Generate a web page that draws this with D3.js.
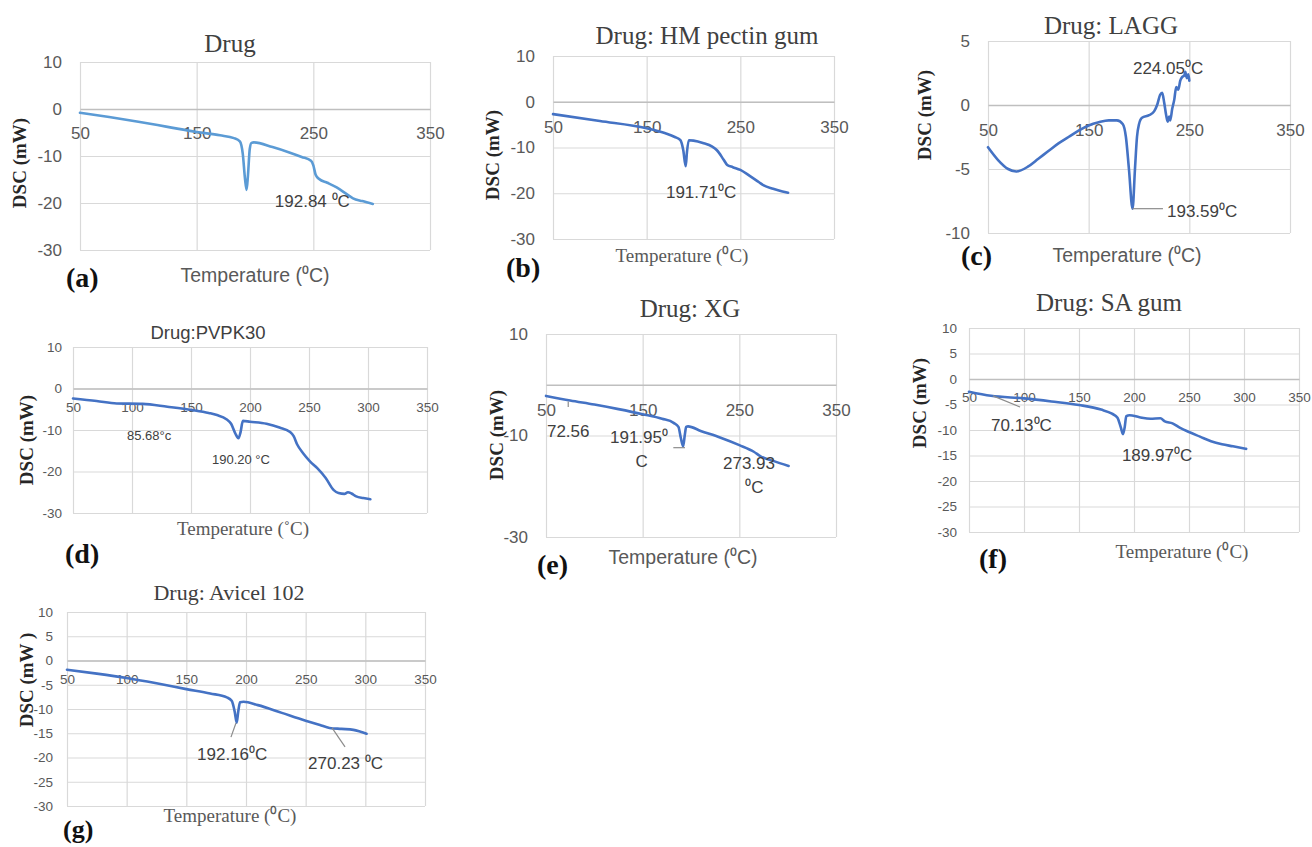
<!DOCTYPE html>
<html><head><meta charset="utf-8">
<script src="https://cdn.jsdelivr.net/npm/d3@7"></script>
<style>body{margin:0;background:#fff;} svg{display:block;}</style>
</head><body>
<svg id="chart" width="1312" height="847"></svg>
<script>
// ---------- tick labels ----------
const xTicksCoarse = [50, 150, 250, 350];
const xTicksFine = [50, 100, 150, 200, 250, 300, 350];
const yTicks10 = [10, 0, -10, -20, -30];
const yTicks5 = [10, 5, 0, -5, -10, -15, -20, -25, -30];
const yTicksLAGG = [5, 0, -5, -10];
const yTicksXG = [10, -10, -30];

// ---------- series (temperature °C, DSC mW) ----------
const drugTemp = [50,75,100,125,150,170,182,187,189.5,191.5,192.8,194,195.5,197,199,215,230,240,248,250,252,255,262,270,278,284,292,301];
const drugDSC  = [-0.8,-1.7,-2.7,-3.8,-4.9,-5.6,-6.2,-6.9,-9.5,-15,-17.2,-14,-8.5,-7.2,-7.1,-8.1,-9.3,-10.2,-11,-12,-14,-14.9,-15.7,-16.7,-18,-19,-19.6,-20.2];

const pectinTemp = [50,100,150,170,180,186,189,191.7,193,195,200,210,220,225,232,236,242,250,260,270,275,285,295,301];
const pectinDSC  = [-2.7,-4.2,-5.8,-6.9,-7.7,-8.4,-10.5,-14.1,-11,-8.4,-8.5,-9.0,-9.8,-10.6,-12.6,-13.8,-14.3,-14.9,-16.2,-17.6,-18.3,-19.0,-19.6,-19.9];

const laggTemp = [50,60,70,78,90,100,110,120,130,140,150,160,170,178,184,187,190,193.6,196,198,200,203,210,215,218,221,223,225,227,228.5,230,231,233,235,237,239,241,243,245,246,247.5,249,250];
const laggDSC  = [-3.3,-4.3,-5.0,-5.2,-4.8,-4.2,-3.6,-3.0,-2.5,-2.0,-1.6,-1.35,-1.2,-1.2,-1.5,-2.5,-5,-8.1,-5,-2.5,-1.5,-1.0,-0.8,-0.5,0,0.8,0.95,0.2,-0.8,-1.3,-0.9,-1.2,-0.3,0.4,1.4,1.2,1.9,2.2,2.3,2.6,2.1,2.4,1.9];

const pvpTemp = [50,70,87,109,130,151,165,172,180,184,187.5,190.2,192,194,200,214,225,234,237,240,245,251,257,264,271,275,280,283,286,290,296,302];
const pvpDSC  = [-2.4,-3.0,-3.6,-3.7,-4.4,-5.2,-5.9,-6.4,-7.4,-8.5,-10.8,-12,-10.5,-7.8,-8.0,-8.5,-9.4,-10.5,-11.5,-13.5,-15.6,-17.6,-19.2,-21.5,-24.5,-25.2,-25.4,-25.0,-25.3,-26.0,-26.4,-26.7];

const xgTemp = [50,75,100,125,150,170,182,187,189.5,191.9,193.5,195,197,210,230,250,265,272,285,301];
const xgDSC  = [-2.2,-3.1,-3.9,-4.8,-5.8,-6.7,-7.5,-8.3,-10.5,-12.1,-10,-8.3,-8.2,-9.1,-10.4,-11.9,-13.2,-14.1,-15,-16];

const saTemp = [50,70,100,125,150,170,180,185,188,190,191.5,193,196,205,215,224,228,235,242,250,260,270,280,290,302];
const saDSC  = [-2.5,-3.3,-3.8,-4.4,-5.1,-6.0,-6.8,-7.6,-9.5,-10.8,-9.5,-7.3,-7.1,-7.5,-7.8,-7.7,-8.3,-8.7,-9.6,-10.4,-11.3,-12.2,-12.8,-13.2,-13.7];

const avicelTemp = [50,75,100,125,150,170,184,188,190.5,192.2,193.5,195,198,210,230,250,262,270,280,290,296,301];
const avicelDSC  = [-1.9,-2.7,-3.6,-4.7,-5.9,-6.8,-7.6,-8.3,-10.5,-12.8,-10.5,-8.6,-8.5,-9.2,-10.8,-12.4,-13.3,-13.9,-14.1,-14.3,-14.7,-15.1];

// ---------- layout / styling ----------
const SERIF = "'Liberation Serif','Times New Roman',serif";
const SANS = "'Liberation Sans',Arial,sans-serif";

const panels = [
  {temp: drugTemp, dsc: drugDSC, color: '#5B9BD5', rect: [80, 62, 430, 250], yDomain: [-30, 10],
   xTicks: xTicksCoarse, yTicks: yTicks10, tickSize: 17, yGap: 18, xPad: 18,
   title: {text: 'Drug', x: 230, y: 43, font: SERIF, size: 25},
   ylab: {text: 'DSC  (mW)', x: 19, y: 163},
   xlab: {text: 'Temperature (⁰C)', x: 255, y: 275, font: SANS},
   tag: {text: '(a)', x: 66, y: 277, size: 28},
   ann: [{t: '192.84  ⁰C', x: 217, y: -19.6, size: 17}], lead: []},
  {temp: pectinTemp, dsc: pectinDSC, color: '#4472C4', rect: [553, 56, 834, 239], yDomain: [-30, 10],
   xTicks: xTicksCoarse, yTicks: yTicks10, tickSize: 17, yGap: 18, xPad: 19,
   title: {text: 'Drug: HM pectin gum', x: 707, y: 35, font: SERIF, size: 25},
   ylab: {text: 'DSC (mW)', x: 492, y: 155},
   xlab: {text: 'Temperature (⁰C)', x: 682, y: 255, font: SERIF},
   tag: {text: '(b)', x: 506, y: 267, size: 28},
   ann: [{t: '191.71⁰C', x: 170.6, y: -19.7, size: 17}], lead: []},
  {temp: laggTemp, dsc: laggDSC, color: '#4472C4', rect: [988, 41, 1290, 233], yDomain: [-10, 5],
   xTicks: xTicksCoarse, yTicks: yTicksLAGG, tickSize: 17, yGap: 18, xPad: 19,
   title: {text: 'Drug: LAGG', x: 1111, y: 25, font: SERIF, size: 25},
   ylab: {text: 'DSC (mW)', x: 924, y: 115},
   xlab: {text: 'Temperature (⁰C)', x: 1127, y: 255, font: SANS},
   tag: {text: '(c)', x: 961, y: 255, size: 28},
   ann: [{t: '224.05⁰C', x: 194, y: 2.9, size: 17}, {t: '193.59⁰C', x: 227.8, y: -8.28, size: 17}],
   lead: [[193.6, -8.1, 223.8, -8.1]]},
  {temp: pvpTemp, dsc: pvpDSC, color: '#4472C4', rect: [73, 347, 427, 513], yDomain: [-30, 10],
   xTicks: xTicksFine, yTicks: yTicks10, tickSize: 13.5, yGap: 11, xPad: 14,
   title: {text: 'Drug:PVPK30', x: 208, y: 333, font: SANS, size: 18.5},
   ylab: {text: 'DSC (mW)', x: 26, y: 440},
   xlab: {text: 'Temperature (˚C)', x: 243, y: 528, font: SERIF},
   tag: {text: '(d)', x: 65, y: 553, size: 28},
   ann: [{t: '85.68°c', x: 95.8, y: -11.4, size: 13}, {t: '190.20 °C', x: 167.8, y: -17, size: 13}], lead: []},
  {temp: xgTemp, dsc: xgDSC, color: '#4472C4', rect: [546, 334, 836, 537], yDomain: [-30, 10],
   xTicks: xTicksCoarse, yTicks: yTicksXG, tickSize: 17, yGap: 18, xPad: 19,
   title: {text: 'Drug: XG', x: 690, y: 308, font: SERIF, size: 25},
   ylab: {text: 'DSC (mW)', x: 496, y: 435},
   xlab: {text: 'Temperature (⁰C)', x: 683, y: 557, font: SANS},
   tag: {text: '(e)', x: 537, y: 564, size: 28},
   ann: [{t: '72.56', x: 51, y: -9.2, size: 17}, {t: '191.95⁰', x: 116.2, y: -10.3, size: 17},
         {t: 'C', x: 142.5, y: -15.1, size: 17}, {t: '273.93', x: 233.1, y: -15.5, size: 17},
         {t: '⁰C', x: 256, y: -20.2, size: 17}],
   lead: [[73, -3.3, 73, -4.4], [181.7, -12.4, 193.8, -12.4]]},
  {temp: saTemp, dsc: saDSC, color: '#4472C4', rect: [969, 328, 1299, 532], yDomain: [-30, 10],
   xTicks: xTicksFine, yTicks: yTicks5, tickSize: 13.5, yGap: 12, xPad: 13,
   title: {text: 'Drug: SA gum', x: 1109, y: 302, font: SERIF, size: 25},
   ylab: {text: 'DSC (mW)', x: 919, y: 403},
   xlab: {text: 'Temperature (⁰C)', x: 1182, y: 551, font: SERIF},
   tag: {text: '(f)', x: 979, y: 558, size: 28},
   ann: [{t: '70.13⁰C', x: 70, y: -9.0, size: 17}, {t: '189.97⁰C', x: 189, y: -14.9, size: 17}],
   lead: [[71.8, -3.3, 96.4, -5.5]]},
  {temp: avicelTemp, dsc: avicelDSC, color: '#4472C4', rect: [67, 612, 425, 806], yDomain: [-30, 10],
   xTicks: xTicksFine, yTicks: yTicks5, tickSize: 13.5, yGap: 14, xPad: 14,
   title: {text: 'Drug: Avicel 102', x: 229, y: 592, font: SERIF, size: 22},
   ylab: {text: 'DSC (mW )', x: 26, y: 680},
   xlab: {text: 'Temperature (⁰C)', x: 230, y: 815, font: SERIF},
   tag: {text: '(g)', x: 63, y: 829, size: 26},
   ann: [{t: '192.16⁰C', x: 159, y: -19.3, size: 17}, {t: '270.23 ⁰C', x: 252, y: -21.1, size: 17}],
   lead: [[187.4, -15.8, 191.6, -12.9], [272.1, -13.9, 283, -17.8]]}
];

const svg = d3.select('#chart');
svg.append('rect').attr('width', 1312).attr('height', 847).attr('fill', '#fff');

panels.forEach(p => {
  const [x0, y0, x1, y1] = p.rect;
  const x = d3.scaleLinear().domain([50, 350]).range([x0, x1]);
  const y = d3.scaleLinear().domain(p.yDomain).range([y1, y0]);
  const g = svg.append('g');

  // vertical gridlines
  const gx = g.append('g').attr('transform', `translate(0,${y1})`)
    .call(d3.axisBottom(x).tickValues(p.xTicks).tickSize(-(y1 - y0)).tickFormat(''));
  gx.select('.domain').remove();
  gx.selectAll('line').attr('stroke', '#d9d9d9').attr('stroke-width', 1.2);

  // horizontal gridlines + y labels
  const gy = g.append('g').attr('transform', `translate(${x0},0)`)
    .call(d3.axisLeft(y).tickValues(p.yTicks).tickSize(-(x1 - x0)).tickPadding(p.yGap).tickFormat(d => String(d)));
  gy.select('.domain').remove();
  gy.selectAll('line').attr('stroke', '#d9d9d9').attr('stroke-width', 1.2);
  gy.selectAll('text').attr('fill', '#595959').attr('font-family', SANS).attr('font-size', p.tickSize);

  // horizontal axis at 0
  const ax = g.append('g').attr('transform', `translate(0,${y(0)})`)
    .call(d3.axisBottom(x).tickValues(p.xTicks).tickSize(0).tickPadding(p.xPad).tickFormat(d => String(d)));
  ax.select('.domain').attr('stroke', '#bfbfbf').attr('stroke-width', 1.5);
  ax.selectAll('text').attr('fill', '#595959').attr('font-family', SANS).attr('font-size', p.tickSize);

  // series line
  const pts = p.temp.map((t, i) => [t, p.dsc[i]]);
  g.append('path').datum(pts)
    .attr('fill', 'none').attr('stroke', p.color).attr('stroke-width', 2.6)
    .attr('stroke-linejoin', 'round').attr('stroke-linecap', 'round')
    .attr('d', d3.line().x(d => x(d[0])).y(d => y(d[1])).curve(d3.curveMonotoneX));

  // leader lines
  p.lead.forEach(l => {
    g.append('line').attr('x1', x(l[0])).attr('y1', y(l[1])).attr('x2', x(l[2])).attr('y2', y(l[3]))
      .attr('stroke', '#8c8c8c').attr('stroke-width', 1.2);
  });

  // annotations
  p.ann.forEach(a => {
    g.append('text').attr('x', x(a.x)).attr('y', y(a.y)).attr('dy', '0.35em')
      .attr('font-family', SANS).attr('font-size', a.size).attr('fill', '#404040').text(a.t);
  });

  // title
  g.append('text').attr('x', p.title.x).attr('y', p.title.y).attr('dy', '0.35em')
    .attr('text-anchor', 'middle').attr('font-family', p.title.font).attr('font-size', p.title.size)
    .attr('fill', '#404040').text(p.title.text);

  // y label
  g.append('text').attr('transform', `translate(${p.ylab.x},${p.ylab.y}) rotate(-90)`).attr('dy', '0.35em')
    .attr('text-anchor', 'middle').attr('font-family', SERIF).attr('font-weight', 'bold').attr('font-size', 19)
    .attr('fill', '#262626').text(p.ylab.text);

  // x label
  g.append('text').attr('x', p.xlab.x).attr('y', p.xlab.y).attr('dy', '0.35em')
    .attr('text-anchor', 'middle').attr('font-family', p.xlab.font).attr('font-size', p.xlab.font === SANS ? 19.5 : 19)
    .attr('fill', '#595959').text(p.xlab.text);

  // panel tag
  g.append('text').attr('x', p.tag.x).attr('y', p.tag.y).attr('dy', '0.35em')
    .attr('font-family', SERIF).attr('font-weight', 'bold').attr('font-size', p.tag.size)
    .attr('fill', '#111').text(p.tag.text);
});
</script>
</body></html>
